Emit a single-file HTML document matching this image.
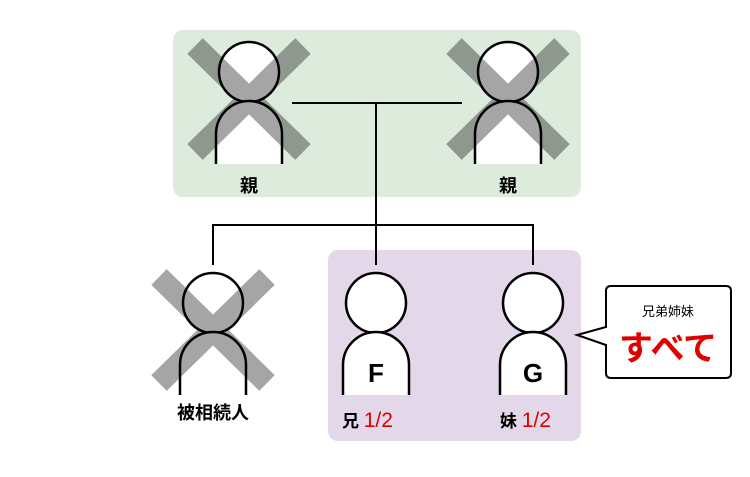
<!DOCTYPE html>
<html><head><meta charset="utf-8"><style>html,body{margin:0;padding:0;background:#fff}svg{display:block}</style></head><body>
<svg width="750" height="477" viewBox="0 0 750 477" xmlns="http://www.w3.org/2000/svg" font-family="'Liberation Sans','Noto Sans CJK JP',sans-serif">
<defs>
<g id="person">
<circle cx="0" cy="0" r="30" fill="#fff" stroke="#000" stroke-width="2.5"/>
<path d="M-33,92 L-33,62 A33,33 0 0 1 33,62 L33,92 Z" fill="#fff" stroke="none"/>
<path d="M-33,92 L-33,62 A33,33 0 0 1 33,62 L33,92" fill="none" stroke="#000" stroke-width="2.5"/>
</g>
<g id="cross" opacity="0.35">
<line x1="-54" y1="-26" x2="54" y2="80" stroke="#000" stroke-width="22"/>
<line x1="54" y1="-26" x2="-54" y2="80" stroke="#000" stroke-width="22"/>
</g>
</defs>
<rect x="173" y="30" width="408" height="167" rx="10" fill="#dcebdc"/>
<rect x="328" y="250" width="253" height="191" rx="10" fill="#e3d7ea"/>
<g stroke="#000" stroke-width="2" fill="none">
<line x1="292" y1="103" x2="462" y2="103"/>
<line x1="376" y1="103" x2="376" y2="225"/>
<line x1="213" y1="225" x2="533" y2="225"/>
<line x1="213" y1="224" x2="213" y2="265"/>
<line x1="376" y1="225" x2="376" y2="265"/>
<line x1="533" y1="224" x2="533" y2="265"/>
</g>
<use href="#person" x="249" y="72"/><use href="#cross" x="249" y="72"/>
<use href="#person" x="508" y="72"/><use href="#cross" x="508" y="72"/>
<use href="#person" x="213" y="303"/><use href="#cross" x="213" y="303"/>
<use href="#person" x="376" y="303"/>
<use href="#person" x="533" y="303"/>
<g font-size="18" font-weight="bold" text-anchor="middle" fill="#000">
<text x="249" y="192">親</text>
<text x="508" y="192">親</text>
<text x="213" y="419">被相続人</text>
</g>
<g font-size="26" font-weight="bold" text-anchor="middle">
<text x="376" y="382">F</text>
<text x="533" y="382">G</text>
</g>
<text x="342" y="427" font-size="17" font-weight="bold">兄 <tspan fill="#e00000" font-size="21" font-weight="normal">1/2</tspan></text>
<text x="500" y="427" font-size="17" font-weight="bold">妹 <tspan fill="#e00000" font-size="21" font-weight="normal">1/2</tspan></text>
<path d="M611,286 H726 Q731,286 731,291 V373 Q731,378 726,378 H611 Q606,378 606,373 V345 L577,335 L606,327 V291 Q606,286 611,286 Z" fill="#fff" stroke="#000" stroke-width="2"/>
<text x="668" y="316" font-size="13" text-anchor="middle">兄弟姉妹</text>
<text x="668" y="360" font-size="34" font-weight="bold" fill="#e00000" text-anchor="middle">すべて</text>
</svg>
</body></html>
